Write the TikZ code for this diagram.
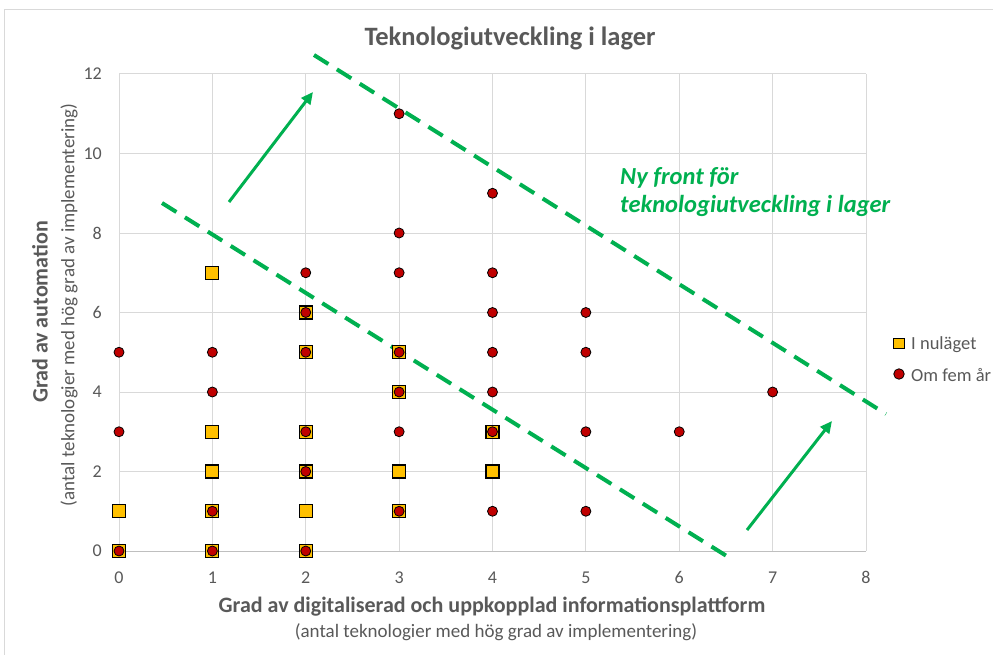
\documentclass[tikz,border=0pt]{standalone}
\usepackage{fontspec}
\setmainfont{Carlito}
\usetikzlibrary{arrows.meta}
\definecolor{axgray}{HTML}{595959}
\definecolor{gridgray}{HTML}{D9D9D9}
\definecolor{axisline}{HTML}{BFBFBF}
\definecolor{sqfill}{HTML}{FFC000}
\definecolor{cfill}{HTML}{C00000}
\definecolor{frontgreen}{HTML}{00B050}
\begin{document}
\begin{tikzpicture}[x=1pt,y=-1pt,
  gridline/.style={draw=gridgray, line width=1pt},
  ticklabel/.style={text=axgray, font=\fontsize{18}{20}\selectfont, inner sep=0pt},
  sqmark/.style={draw=black, fill=sqfill, rectangle, minimum size=13pt, inner sep=0pt, line width=1.2pt},
  cmark/.style={draw=black, fill=cfill, circle, minimum size=10pt, inner sep=0pt, line width=0.8pt},
  front/.style={draw=frontgreen, line width=4pt, dash pattern=on 17pt off 10pt},
  growth/.style={draw=frontgreen, line width=3pt, -{Triangle[length=12pt,width=11pt]}},
  legtext/.style={text=axgray, font=\fontsize{18.5}{20}\selectfont, anchor=base west, inner sep=0pt},
]
\useasboundingbox (0,0) rectangle (993,655);
\fill[white] (0,0) rectangle (993,655);
\draw[gridgray] (4,655) -- (4,9) -- (993,9);
% grid
\foreach \i in {0,...,8} {
  \draw[gridline] ({119+93.375*\i},74) -- ({119+93.375*\i},551);
  \node[ticklabel, anchor=base] (xt\i) at ({119+93.375*\i},583) {\i};
}
\foreach \j in {0,2,...,12} {
  \draw[gridline] (119,{551-39.75*\j}) -- (866,{551-39.75*\j});
  \node[ticklabel, anchor=east] (yt\j) at (102,{551-39.75*\j}) {\j};
}
\draw[axisline, line width=1pt] (119,551) -- (866,551);
% titles
\node[text=axgray, font=\fontsize{26.5}{30}\selectfont\bfseries, anchor=base] (title) at (510,46) {Teknologiutveckling i lager};
\node[text=axgray, font=\fontsize{22}{26}\selectfont\bfseries, anchor=base] (xtitle) at (492,612) {Grad av digitaliserad och uppkopplad informationsplattform};
\node[text=axgray, font=\fontsize{19}{22}\selectfont, anchor=base] (xsub) at (496,637) {(antal teknologier med hög grad av implementering)};
\node[text=axgray, font=\fontsize{22}{26}\selectfont\bfseries, rotate=90] (ytitle) at (40,312) {Grad av automation};
\node[text=axgray, font=\fontsize{19}{22}\selectfont, rotate=90] (ysub) at (69,305) {(antal teknologier med hög grad av implementering)};
% front lines and arrows
\coordinate (fa1) at (314,55);
\coordinate (fa2) at (886,414);
\coordinate (fb1) at (162,203);
\coordinate (fb2) at (733,560);
\coordinate (ga1) at (229,202);
\coordinate (ga2) at (313,92);
\coordinate (gb1) at (747,530);
\coordinate (gb2) at (832,421);
\draw[front] (fa1) -- (fa2);
\draw[front] (fb1) -- (fb2);
\draw[growth] (ga1) -- (ga2);
\draw[growth] (gb1) -- (gb2);
% data
\foreach \a/\b in {0/0,0/1,1/0,1/1,1/2,1/3,1/7,2/0,2/1,2/2,2/3,2/5,2/6,3/1,3/2,3/4,3/5,4/2,4/3}
  \node[sqmark] (s-\a-\b) at ({119+93.375*\a},{551-39.75*\b}) {};
\foreach \a/\b in {0/0,0/3,0/5,1/0,1/1,1/4,1/5,2/0,2/2,2/3,2/5,2/6,2/7,3/1,3/3,3/4,3/5,3/7,3/8,3/11,4/1,4/3,4/4,4/5,4/6,4/7,4/9,5/1,5/3,5/5,5/6,6/3,7/4}
  \node[cmark] (c-\a-\b) at ({119+93.375*\a},{551-39.75*\b}) {};
% legend
\node[sqmark, minimum size=10.5pt] (legsq) at (899,343.5) {};
\node[legtext] (legsqt) at (911,349.5) {I nuläget};
\node[cmark, minimum size=10.5pt] (legc) at (899,374) {};
\node[legtext] (legct) at (911,381) {Om fem år};
\node[text=frontgreen, font=\fontsize{24.5}{28}\selectfont\bfseries\itshape, align=left, anchor=north west, inner sep=0pt] (front) at (620,167) {Ny front för\\teknologiutveckling i lager};
\end{tikzpicture}
\end{document}
